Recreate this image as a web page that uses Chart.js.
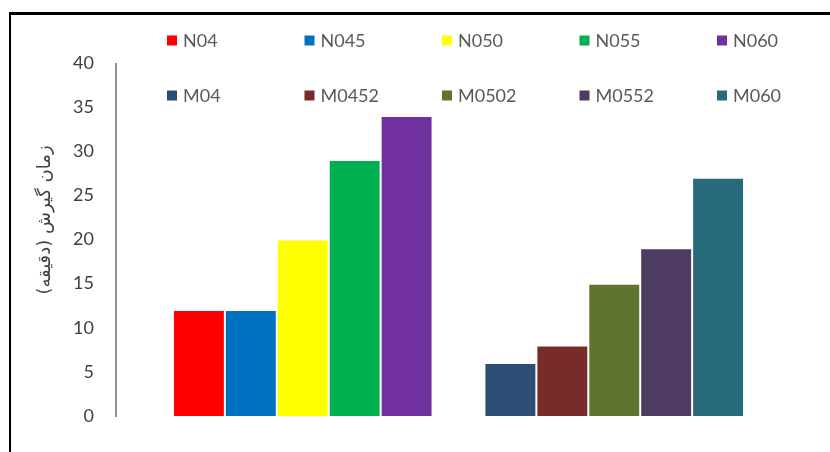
<!DOCTYPE html>
<html>
<head>
<meta charset="utf-8">
<script src="https://cdn.jsdelivr.net/npm/chart.js@4"></script>
<style>
  html, body { margin: 0; padding: 0; background: #fff; overflow: hidden; }
  #wrap { position: relative; width: 830px; height: 452px; }
  #frame { position: absolute; left: 9px; top: 12px; width: 900px; height: 500px;
           border-left: 2px solid #000; border-top: 3px solid #000; }
  .box { position: absolute; left: 0; top: 0; width: 830px; height: 452px; }
</style>
</head>
<body>
<div id="wrap">
  <div id="frame"></div>
  <div class="box"><canvas id="chart"></canvas></div>
</div>
<script>
const categories = ['N', 'M'];
const nNames = ['N04', 'N045', 'N050', 'N055', 'N060'];
const nValues = [12, 12, 20, 29, 34];
const nColors = ['#ff0000', '#0070c0', '#ffff00', '#00b050', '#7030a0'];
const mNames = ['M04', 'M0452', 'M0502', 'M0552', 'M060'];
const mValues = [6, 8, 15, 19, 27];
const mColors = ['#2c4d74', '#772c2a', '#607430', '#4d3b62', '#276a7c'];
const yTitle = 'زمان گیرش (دقیقه)';

const datasets = [];
nNames.forEach((name, i) => datasets.push({
  label: name, data: [nValues[i], null], backgroundColor: nColors[i],
}));
mNames.forEach((name, i) => datasets.push({
  label: name, data: [null, mValues[i]], backgroundColor: mColors[i],
}));

const TEXT = '#595959';

// legend in 2 rows x 5 columns, Excel style
const gridLegend = {
  id: 'gridLegend',
  afterDraw(chart) {
    const ctx = chart.ctx;
    ctx.save();
    ctx.font = '18px Lato';
    ctx.textBaseline = 'middle';
    ctx.textAlign = 'left';
    chart.data.datasets.forEach((ds, i) => {
      const col = i % 5, row = Math.floor(i / 5);
      const x = 167 + col * 137.5;
      const y = 40.5 + row * 55;
      ctx.fillStyle = ds.backgroundColor;
      ctx.fillRect(x, y - 5, 10, 10);
      ctx.fillStyle = TEXT;
      ctx.fillText(ds.label, x + 16, y + 1);
    });
    ctx.restore();
  }
};

// y axis line sits a little left of the plot, plus rotated title
const axisDecor = {
  id: 'axisDecor',
  afterDraw(chart) {
    const ctx = chart.ctx;
    const y = chart.scales.y;
    ctx.save();
    ctx.strokeStyle = '#6e6e6e';
    ctx.lineWidth = 1.5;
    ctx.beginPath();
    ctx.moveTo(116, y.getPixelForValue(40));
    ctx.lineTo(116, y.getPixelForValue(0) + 1);
    ctx.stroke();

    ctx.translate(45, 220);
    ctx.rotate(-Math.PI / 2);
    ctx.font = '18px "DejaVu Sans"';
    ctx.fillStyle = '#404040';
    ctx.textAlign = 'center';
    ctx.textBaseline = 'middle';
    ctx.direction = 'rtl';
    ctx.fillText(yTitle, 0, 0);
    ctx.restore();
  }
};

new Chart(document.getElementById('chart'), {
  type: 'bar',
  data: { labels: categories, datasets },
  plugins: [gridLegend, axisDecor],
  options: {
    responsive: true,
    maintainAspectRatio: false,
    animation: false,
    layout: { padding: { top: 63, bottom: 36, left: 0, right: 60 } },
    datasets: {
      bar: {
        skipNull: true,
        barPercentage: 1,
        categoryPercentage: 0.8335,
        borderWidth: 1,
        borderColor: 'rgba(255,255,255,0.2)',
      }
    },
    plugins: {
      legend: { display: false },
      tooltip: { enabled: false },
    },
    scales: {
      x: { display: false },
      y: {
        min: 0, max: 40,
        ticks: { stepSize: 5, padding: 0, color: '#404040', font: { family: 'Lato', size: 18 } },
        grid: { display: false, drawTicks: true, tickLength: 53 },
        border: { display: false },
        afterFit: s => { s.width = 147; },
      }
    }
  }
});
</script>
</body>
</html>
